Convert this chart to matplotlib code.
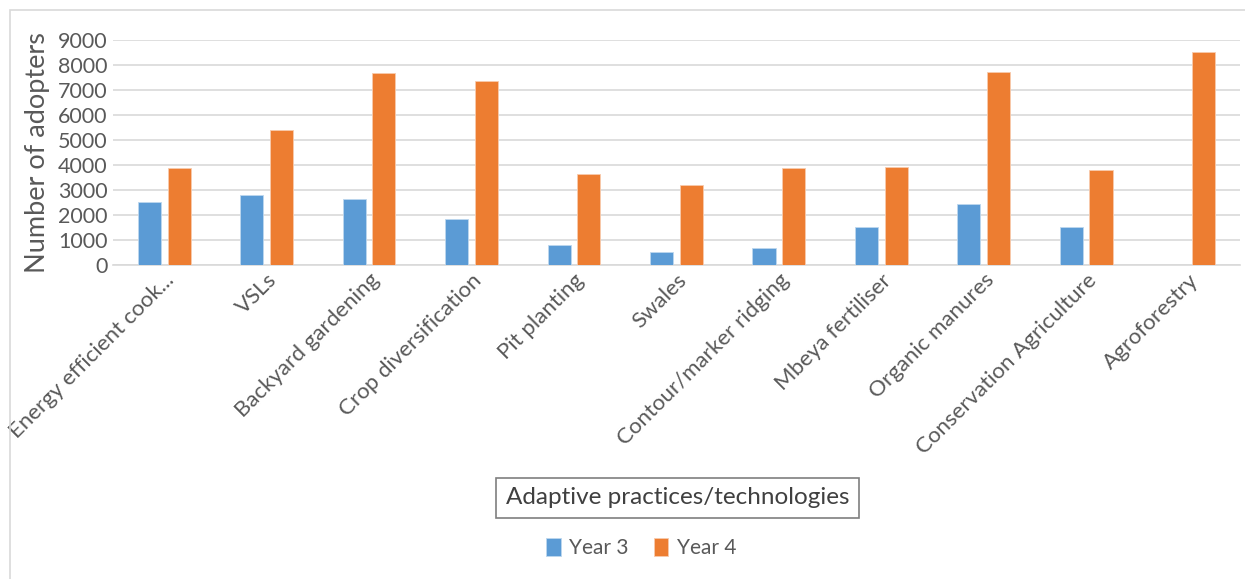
import numpy as np
import matplotlib.pyplot as plt
from matplotlib.patches import Rectangle

plt.rcParams['font.family'] = ['Lato', 'DejaVu Sans']

# data
categories = ['Energy efficient cook...', 'VSLs', 'Backyard gardening', 'Crop diversification',
              'Pit planting', 'Swales', 'Contour/marker ridging', 'Mbeya fertiliser',
              'Organic manures', 'Conservation Agriculture', 'Agroforestry']
year3 = [2510, 2790, 2630, 1850, 800, 510, 670, 1530, 2430, 1530, 0]
year4 = [3890, 5400, 7670, 7370, 3630, 3190, 3870, 3920, 7710, 3790, 8510]

fig = plt.figure(figsize=(12.45, 5.79), dpi=100)
ax = fig.add_axes([0.0908, 0.542, 0.905, 0.389])

x = np.arange(len(categories))
w = 0.225
ax.bar(x - 0.145, year3, w, color='#5B9BD5', edgecolor='#BDD7EE', linewidth=0.6, label='Year 3', zorder=3)
ax.bar(x + 0.145, year4, w, color='#ED7D31', edgecolor='#F8CBAD', linewidth=0.6, label='Year 4', zorder=3)

ax.set_xlim(-0.5, len(categories) - 0.5)
ax.set_ylim(0, 9000)
ax.set_yticks(range(0, 9001, 1000))
ax.yaxis.grid(True, color='#D9D9D9', linewidth=1.2, zorder=0)
for s in ['top', 'right', 'left']:
    ax.spines[s].set_visible(False)
ax.spines['bottom'].set_color('#D9D9D9')
ax.spines['bottom'].set_linewidth(1.2)
ax.tick_params(axis='both', length=0, colors='#595959', labelsize=15.5)
ax.tick_params(axis='y', pad=4)
ax.set_xticks(x)
ax.set_xticklabels(categories, rotation=45, ha='right', rotation_mode='anchor', fontsize=16)
ax.set_ylabel('Number of adopters', fontsize=19.5, color='#595959', labelpad=6)

# axis title in a box
fig.text(0.544, 0.14, 'Adaptive practices/technologies', ha='center', va='center',
         fontsize=17.5, color='#404040',
         bbox=dict(boxstyle='square,pad=0.4', facecolor='white', edgecolor='#7F7F7F', linewidth=1.2))

fig.legend(loc='center', bbox_to_anchor=(0.515, 0.053), ncol=2, frameon=False,
           fontsize=15, handlelength=0.7, handleheight=0.9, handletextpad=0.4,
           columnspacing=1.2, labelcolor='#595959')

# chart area border
fig.patches.append(Rectangle((0.008, -0.02), 1.1, 1.003, transform=fig.transFigure,
                             fill=False, edgecolor='#D9D9D9', linewidth=1.2))

fig.savefig('out.png', dpi=100)
